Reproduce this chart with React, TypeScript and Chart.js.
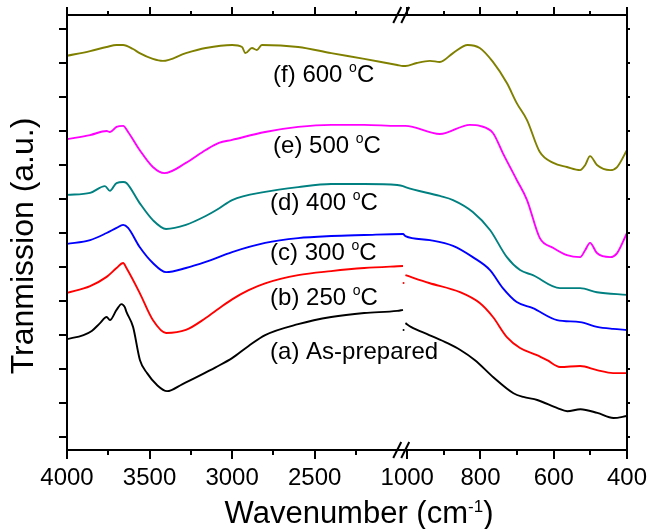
import React, { useEffect, useRef } from "react";
import { Chart, registerables } from "chart.js";

Chart.register(...registerables);

const FONT = "'Liberation Sans', Arial, Helvetica, sans-serif";

// ---- axis ticks (wavenumbers, cm-1) ----
const majorTicks = [4000, 3500, 3000, 2500, 1000, 800, 600, 400];
const minorTicks = [3750, 3250, 2750, 2250, 900, 700, 500];
const yTicks = [0, 1, 2, 3, 4, 5, 6, 7, 8, 9, 10, 11, 12];

// ---- (a) As-prepared (black), split by the axis break ----
const wnA1 = [4000, 3900, 3850, 3800, 3760, 3740, 3700, 3670, 3650, 3640, 3600, 3558, 3515, 3455, 3394, 3300, 3200, 3100, 3000, 2900, 2800, 2600, 2400, 2200, 2000, 1965];
const valA1 = [2.88, 3.0, 3.12, 3.35, 3.53, 3.44, 3.74, 3.91, 3.82, 3.68, 3.24, 2.26, 1.88, 1.53, 1.35, 1.56, 1.8, 2.05, 2.32, 2.68, 3.0, 3.32, 3.53, 3.65, 3.71, 3.74];
const wnA2 = [1005, 990, 940, 890, 855, 815, 765, 710, 683, 645, 590, 563, 527, 481, 437, 400];
const valA2 = [3.35, 3.24, 3.0, 2.76, 2.56, 2.26, 1.76, 1.29, 1.18, 1.09, 0.85, 0.76, 0.82, 0.71, 0.56, 0.62];

// ---- (b) 250 °C (red) ----
const wnB1 = [4000, 3860, 3760, 3700, 3660, 3640, 3560, 3480, 3400, 3280, 3160, 3080, 3000, 2900, 2800, 2600, 2400, 2200, 1965];
const valB1 = [4.24, 4.44, 4.71, 4.97, 5.12, 4.97, 4.24, 3.44, 3.06, 3.15, 3.5, 3.78, 4.05, 4.32, 4.52, 4.76, 4.88, 4.97, 5.03];
const wnB2 = [1005, 940, 856, 802, 766, 728, 692, 646, 618, 583, 528, 482, 438, 400];
const valB2 = [4.76, 4.53, 4.26, 3.94, 3.53, 2.94, 2.62, 2.41, 2.26, 2.06, 2.09, 1.97, 1.88, 1.88];

// ---- (c) 300 °C (blue) ----
const wnC = [4000, 3860, 3760, 3700, 3660, 3630, 3560, 3480, 3400, 3280, 3160, 3000, 2800, 2600, 2400, 2200, 1965, 1005, 938, 875, 821, 774, 739, 701, 657, 591, 528, 482, 438, 400];
const valC = [5.68, 5.79, 6.0, 6.15, 6.24, 6.15, 5.59, 5.12, 4.85, 4.97, 5.15, 5.44, 5.71, 5.85, 5.91, 5.94, 5.97, 5.91, 5.79, 5.62, 5.29, 4.91, 4.38, 3.97, 3.79, 3.44, 3.38, 3.24, 3.18, 3.15];

// ---- (d) 400 °C (teal) ----
const wnD = [4000, 3860, 3770, 3740, 3700, 3660, 3640, 3560, 3480, 3400, 3280, 3160, 3080, 3000, 2800, 2600, 2400, 2200, 2000, 1965, 1005, 911, 875, 821, 774, 728, 692, 657, 583, 528, 482, 400];
const valD = [7.12, 7.18, 7.38, 7.24, 7.47, 7.5, 7.47, 6.88, 6.38, 6.12, 6.24, 6.5, 6.72, 6.97, 7.21, 7.35, 7.44, 7.44, 7.41, 7.38, 7.35, 7.09, 6.97, 6.62, 6.09, 5.29, 4.91, 4.76, 4.38, 4.38, 4.26, 4.18];

// ---- (e) 500 °C (magenta) ----
const wnE = [4000, 3860, 3760, 3740, 3700, 3660, 3630, 3560, 3480, 3410, 3280, 3160, 3080, 3000, 2800, 2600, 2400, 2200, 2000, 1965, 1005, 911, 829, 802, 766, 739, 701, 673, 638, 601, 564, 528, 514, 501, 482, 446, 427, 400];
const valE = [8.76, 8.88, 9.0, 8.97, 9.12, 9.15, 8.97, 8.44, 7.94, 7.76, 8.06, 8.44, 8.65, 8.74, 8.97, 9.12, 9.18, 9.18, 9.15, 9.15, 9.15, 8.91, 9.18, 9.15, 8.94, 8.35, 7.56, 6.97, 5.85, 5.56, 5.35, 5.29, 5.5, 5.71, 5.41, 5.29, 5.41, 6.0];

// ---- (f) 600 °C (olive) ----
const wnF = [4000, 3860, 3760, 3700, 3660, 3600, 3560, 3480, 3420, 3280, 3160, 3000, 2940, 2920, 2880, 2850, 2820, 2600, 2400, 2200, 2000, 1965, 1005, 974, 938, 911, 875, 835, 802, 766, 728, 701, 673, 638, 601, 564, 528, 514, 501, 482, 446, 427, 400];
const valF = [11.21, 11.35, 11.47, 11.53, 11.53, 11.41, 11.29, 11.12, 11.06, 11.29, 11.44, 11.53, 11.47, 11.29, 11.44, 11.38, 11.53, 11.47, 11.29, 11.12, 10.94, 10.91, 10.91, 11.0, 11.06, 11.03, 11.29, 11.53, 11.44, 11.03, 10.41, 9.82, 9.32, 8.38, 8.06, 7.94, 7.85, 8.0, 8.26, 8.0, 7.85, 7.94, 8.44];

// small isolated points at the break
const gapDotWn = [1010, 1010];
const gapDotVal = [3.15, 4.53];

// curve labels
const labelPrefix = ["(f) 600 ", "(e) 500 ", "(d) 400 ", "(c) 300 ", "(b) 250 ", "(a) As-prepared"];
const labelSup = ["o", "o", "o", "o", "o", ""];
const labelSuffix = ["C", "C", "C", "C", "C", ""];
const labelWn = [2752, 2752, 2770, 2770, 2770, 2770];
const labelVal = [10.44, 8.35, 6.68, 5.21, 3.88, 2.29];

const xTitle = "Wavenumber (cm";
const xTitleSup = "-1";
const xTitleEnd = ")";
const yTitle = "Tranmission (a.u.)";

// broken axis: 4000-2000 on the left, 1000-400 on the right
function pos(wn: number): number {
  return wn >= 1500 ? (4000 - wn) * 0.165 : 340 + (1000 - wn) * 0.366;
}
const BREAK_POS = 334;

function pts(wn: number[], val: number[]) {
  return wn.map((w, i) => ({ x: pos(w), y: val[i] }));
}

function lineDs(data: any[], color: string) {
  return {
    data,
    borderColor: color,
    backgroundColor: color,
    borderWidth: 1.9,
    pointRadius: 0,
    cubicInterpolationMode: "monotone" as const,
    spanGaps: false,
    fill: false,
  };
}

const framePlugin = {
  id: "frame",
  afterDraw(chart: any) {
    const ctx = chart.ctx;
    const { left, right, top, bottom } = chart.chartArea;
    const xs = chart.scales.x;
    const ys = chart.scales.y;
    ctx.save();
    ctx.strokeStyle = "#000";
    ctx.fillStyle = "#000";
    ctx.lineWidth = 2;
    ctx.strokeRect(left, top, right - left, bottom - top);
    ctx.beginPath();
    majorTicks.forEach((w) => {
      const px = Math.round(xs.getPixelForValue(pos(w)));
      ctx.moveTo(px, bottom);
      ctx.lineTo(px, bottom + 9);
      ctx.moveTo(px, top);
      ctx.lineTo(px, top - 8);
    });
    minorTicks.forEach((w) => {
      const px = Math.round(xs.getPixelForValue(pos(w)));
      ctx.moveTo(px, bottom);
      ctx.lineTo(px, bottom + 5);
      ctx.moveTo(px, top);
      ctx.lineTo(px, top - 4);
    });
    yTicks.forEach((v) => {
      const py = Math.round(ys.getPixelForValue(v));
      ctx.moveTo(left, py);
      ctx.lineTo(left - 8, py);
      ctx.moveTo(right, py);
      ctx.lineTo(right + 3, py);
    });
    ctx.stroke();

    // break marks
    const bx = xs.getPixelForValue(BREAK_POS);
    ctx.beginPath();
    [top, bottom].forEach((yy) => {
      [-4, 4].forEach((dx) => {
        ctx.moveTo(bx + dx - 4, yy + 8);
        ctx.lineTo(bx + dx + 4, yy - 8);
      });
    });
    ctx.stroke();

    // curve labels
    ctx.textBaseline = "alphabetic";
    ctx.textAlign = "left";
    labelPrefix.forEach((p, i) => {
      const x0 = xs.getPixelForValue(pos(labelWn[i]));
      const y0 = ys.getPixelForValue(labelVal[i]);
      ctx.font = `24px ${FONT}`;
      ctx.fillText(p, x0, y0);
      let x = x0 + ctx.measureText(p).width;
      if (labelSup[i]) {
        ctx.font = `14px ${FONT}`;
        ctx.fillText(labelSup[i], x, y0 - 10);
        x += ctx.measureText(labelSup[i]).width;
        ctx.font = `24px ${FONT}`;
        ctx.fillText(labelSuffix[i], x, y0);
      }
    });

    // x title
    ctx.font = `31px ${FONT}`;
    const w1 = ctx.measureText(xTitle).width;
    const w3 = ctx.measureText(xTitleEnd).width;
    ctx.font = `17px ${FONT}`;
    const w2 = ctx.measureText(xTitleSup).width;
    const total = w1 + w2 + w3;
    let tx = 359 - total / 2;
    const tb = 523;
    ctx.font = `31px ${FONT}`;
    ctx.fillText(xTitle, tx, tb);
    tx += w1;
    ctx.font = `17px ${FONT}`;
    ctx.fillText(xTitleSup, tx, tb - 11);
    tx += w2;
    ctx.font = `31px ${FONT}`;
    ctx.fillText(xTitleEnd, tx, tb);

    // y title
    ctx.save();
    ctx.translate(33, 246);
    ctx.rotate(-Math.PI / 2);
    ctx.textAlign = "center";
    ctx.font = `32px ${FONT}`;
    ctx.fillText(yTitle, 0, 0);
    ctx.restore();

    ctx.restore();
  },
};

export default function App() {
  const ref = useRef<HTMLCanvasElement>(null);
  useEffect(() => {
    const canvas = ref.current!;
    const gap = { x: pos(1500), y: null };
    const datasets: any[] = [
      lineDs([...pts(wnA1, valA1), gap, ...pts(wnA2, valA2)], "#000000"),
      lineDs([...pts(wnB1, valB1), gap, ...pts(wnB2, valB2)], "#ff0000"),
      lineDs(pts(wnC, valC), "#0000ff"),
      lineDs(pts(wnD, valD), "#008080"),
      lineDs(pts(wnE, valE), "#ff00ff"),
      lineDs(pts(wnF, valF), "#808000"),
      {
        data: pts(gapDotWn, gapDotVal),
        showLine: false,
        pointRadius: 1,
        pointBorderWidth: 0,
        pointBackgroundColor: ["#000000", "#ff0000"],
        borderColor: "transparent",
      },
    ];
    const chart = new Chart(canvas, {
      type: "line",
      data: { datasets },
      options: {
        animation: false,
        responsive: false,
        devicePixelRatio: 1,
        layout: { padding: { top: 15, right: 21, left: 0, bottom: 0 } },
        plugins: { legend: { display: false }, tooltip: { enabled: false } },
        events: [],
        scales: {
          x: {
            type: "linear",
            min: 0,
            max: pos(400),
            afterBuildTicks: (s: any) => {
              s.ticks = majorTicks.map((w) => ({ value: pos(w) }));
            },
            afterFit: (s: any) => {
              s.height = 79;
              s.paddingLeft = 0;
              s.paddingRight = 0;
            },
            grid: { display: false, drawTicks: false },
            border: { display: false },
            ticks: {
              autoSkip: false,
              maxRotation: 0,
              minRotation: 0,
              padding: 14,
              color: "#000",
              font: { family: FONT, size: 24 },
              callback: (_v: any, i: number) => String(majorTicks[i]),
            },
          },
          y: {
            type: "linear",
            min: -0.38,
            max: 12.41,
            afterBuildTicks: (s: any) => {
              s.ticks = yTicks.map((v) => ({ value: v }));
            },
            afterFit: (s: any) => {
              s.width = 67;
              s.paddingTop = 0;
              s.paddingBottom = 0;
            },
            grid: { display: false, drawTicks: false },
            border: { display: false },
            ticks: { display: false },
          },
        },
      } as any,
      plugins: [framePlugin],
    });
    return () => chart.destroy();
  }, []);
  return (
    <div style={{ position: "fixed", left: 0, top: 0, width: 648, height: 529, background: "#fff" }}>
      <canvas ref={ref} width={648} height={529} style={{ display: "block", width: 648, height: 529 }} />
    </div>
  );
}
